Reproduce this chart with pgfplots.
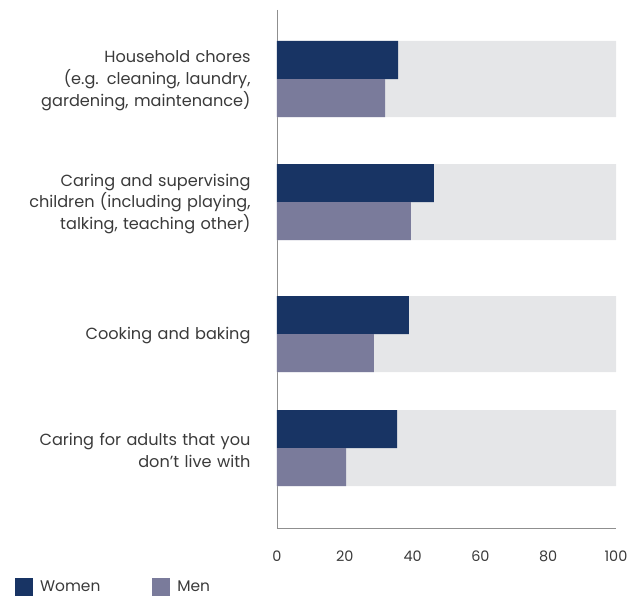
\documentclass[border=0pt]{standalone}
\usepackage{pgfplots}
\pgfplotsset{compat=1.18}
\usepackage{fontspec}
\setmainfont{Poppins}
\definecolor{women}{HTML}{183464}
\definecolor{men}{HTML}{7A7B9B}
\definecolor{bg}{HTML}{E5E6E8}
\definecolor{txt}{HTML}{3A3A3A}
\definecolor{axl}{HTML}{8F8F8F}
\begin{document}
\begin{tikzpicture}
\path[use as bounding box] (-277bp,-70bp) rectangle (365bp,528bp);
\begin{axis}[
  at={(0,0)}, anchor=south west,
  scale only axis, width=339bp, height=518bp,
  xmin=0, xmax=100, ymin=10, ymax=528, y dir=reverse,
  axis x line*=bottom, axis y line*=left,
  axis line style={axl, line width=0.9bp},
  xtick={0,20,40,60,80,100},
  ytick={79,202,334,448},
  yticklabels={{Household chores\\(e.g. cleaning, laundry,\\gardening, maintenance)},
               {Caring and supervising\\children (including playing,\\talking, teaching other)},
               {Cooking and baking},
               {Caring for adults that you\\don’t live with}},
  major tick length=0pt,
  tick label style={text=txt},
  yticklabel style={font=\fontsize{16.2}{22}\selectfont, text width=260bp, align=right, xshift=-23bp, yshift=-2bp},
  xticklabel style={font=\fontsize{14.5}{18}\selectfont, yshift=-19bp},
  /pgf/number format/assume math mode=true,
  xbar, bar shift=0pt,
  legend style={at={(-0.782,-0.1145)}, anchor=west, draw=none, fill=none,
    legend columns=2, font=\fontsize{15.5}{18}\selectfont, text=txt,
    /tikz/every even column/.append style={column sep=50bp}},
  legend image code/.code={\fill[#1] (0bp,-9bp) rectangle (18bp,9bp); \path (23bp,0bp);},
]
\addplot[fill=bg, draw=none, bar width=76, forget plot] coordinates {(100,79) (100,202) (100,334) (100,448)};
\addplot[fill=women, draw=none, bar width=38] coordinates {(35.7,60) (46.3,183) (38.9,315) (35.4,429)};
\addplot[fill=men, draw=none, bar width=38] coordinates {(31.9,98) (39.5,221) (28.6,353) (20.4,467)};
\legend{Women, Men}
\end{axis}
\end{tikzpicture}
\end{document}
